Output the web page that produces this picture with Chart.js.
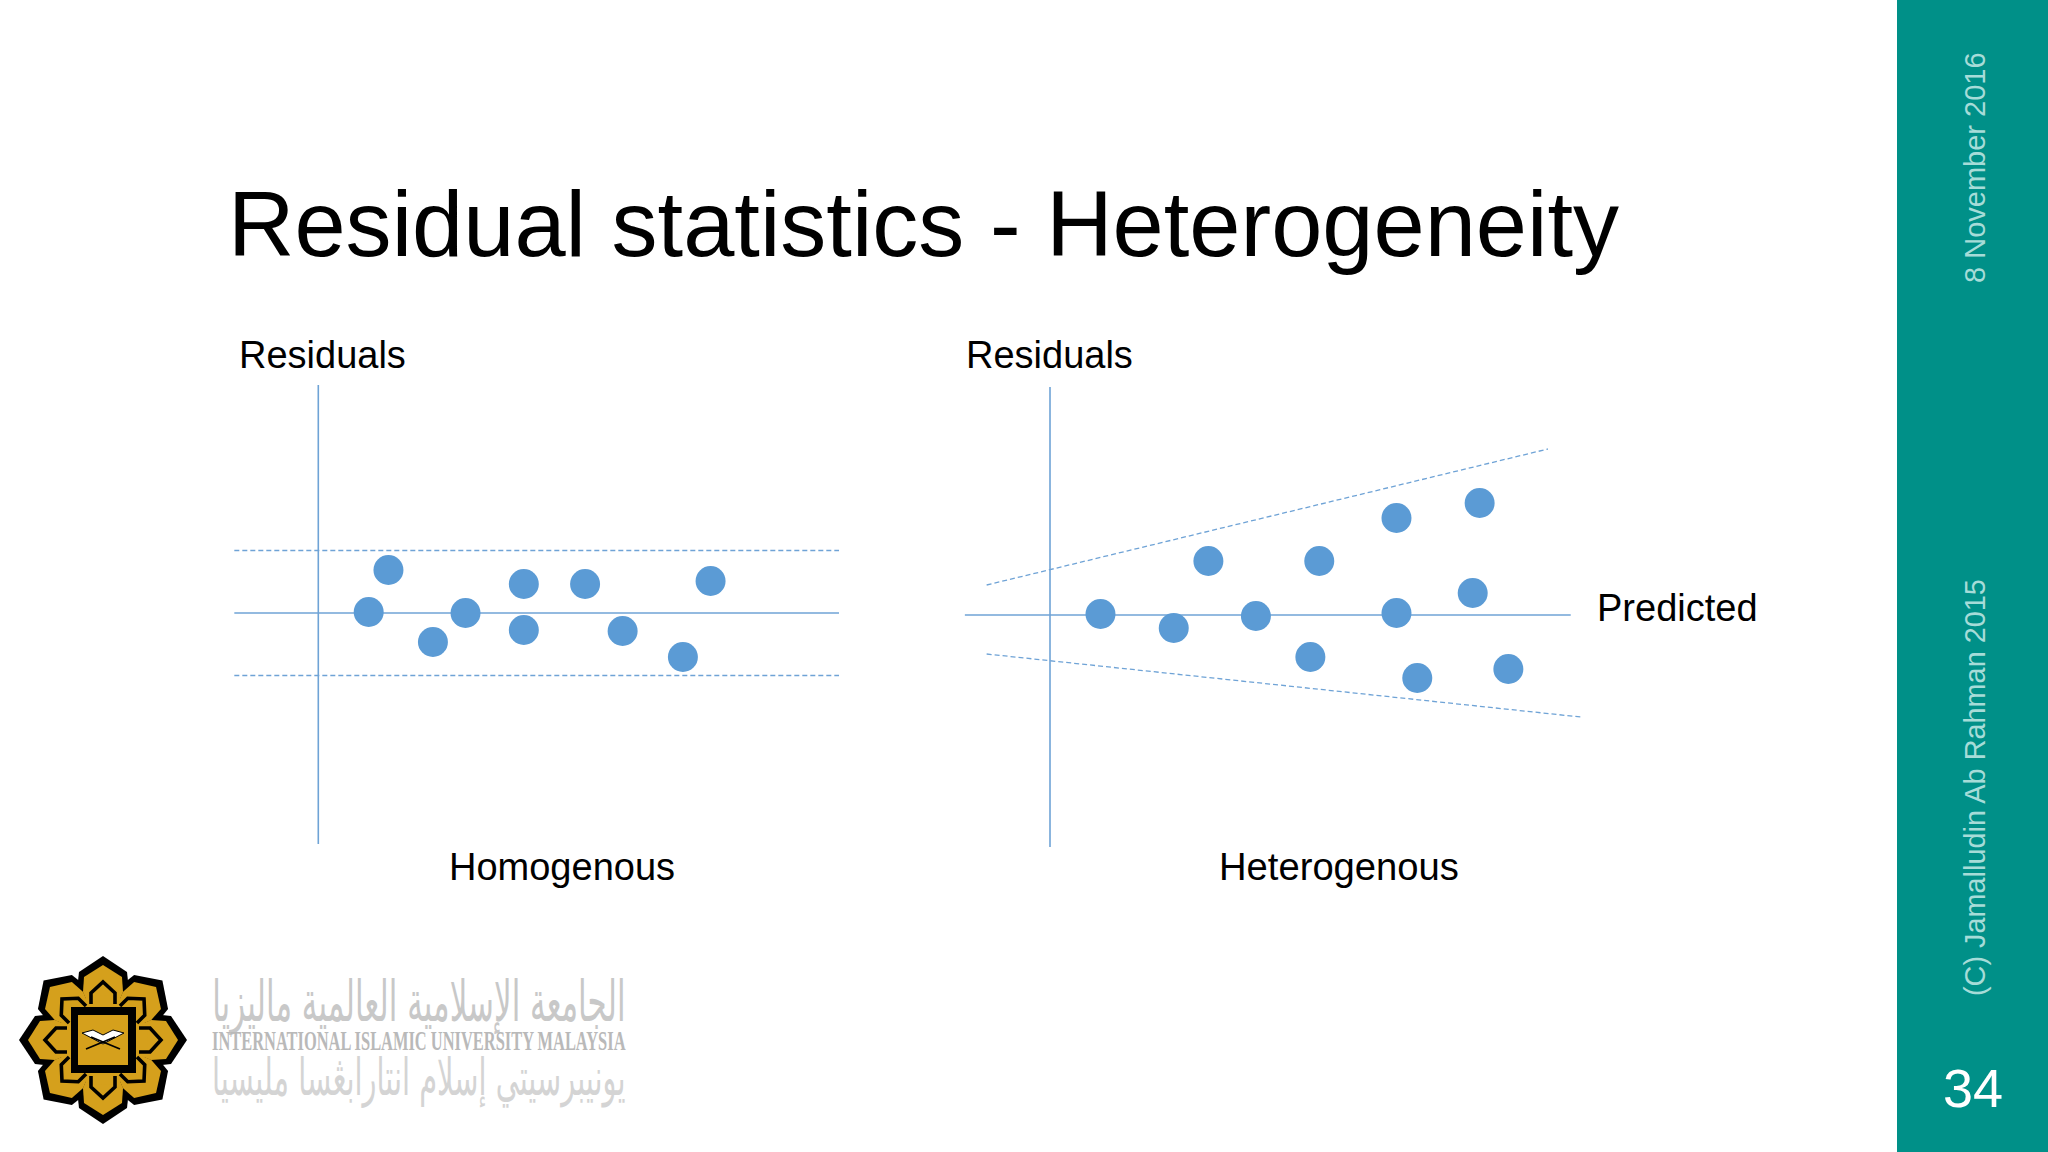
<!DOCTYPE html>
<html><head><meta charset="utf-8">
<script src="https://cdn.jsdelivr.net/npm/chart.js@4"></script>
<style>
html,body{margin:0;padding:0;width:2048px;height:1152px;background:#fff;overflow:hidden}
canvas{position:absolute}
svg{position:absolute;left:0;top:0}
text{font-family:"Liberation Sans",Arial,sans-serif}
</style></head><body>
<svg id="page" width="2048" height="1152" xmlns="http://www.w3.org/2000/svg">
  <rect x="1897" y="0" width="151" height="1152" fill="#009088"/>
  <text x="228" y="256" font-size="92" fill="#000" textLength="1391" lengthAdjust="spacingAndGlyphs">Residual statistics - Heterogeneity</text>
  <text x="239" y="368" font-size="38" fill="#000">Residuals</text>
  <text x="966" y="368" font-size="38" fill="#000">Residuals</text>
  <text x="449" y="880" font-size="38" fill="#000">Homogenous</text>
  <text x="1219" y="880" font-size="38.2" fill="#000">Heterogenous</text>
  <text x="1597" y="621" font-size="38" fill="#000">Predicted</text>
  <text transform="translate(1985,283) rotate(-90)" font-size="29" fill="#a6dcd8">8 November 2016</text>
  <text transform="translate(1985,996) rotate(-90)" font-size="28.85" fill="#a6dcd8">(C) Jamalludin Ab Rahman 2015</text>
  <text x="1943" y="1107" font-size="54" fill="#fff">34</text>
  <g id="logo" transform="translate(103,1040)"></g>
  <text class="fit" data-l="212" data-r="625.5" data-y="1021" data-sy="1.4" font-size="40" fill="#c8c8c8" style="font-family:'DejaVu Sans'" direction="rtl">الجامعة الإسلامية العالمية ماليزيا</text>
  <text x="212" y="1050" font-size="27" font-weight="bold" fill="#b9b9b9" textLength="413.5" lengthAdjust="spacingAndGlyphs" style="font-family:'Liberation Serif'">INTERNATIONAL ISLAMIC UNIVERSITY MALAYSIA</text>
  <text class="fit" data-l="212" data-r="625.5" data-y="1095" data-sy="1.35" font-size="38" fill="#d4d4d4" style="font-family:'DejaVu Sans'" direction="rtl">يونيبرسيتي إسلام انتارابڠسا مليسيا</text>
</svg>
<canvas id="left" style="left:219px;top:373px" width="630" height="480"></canvas>
<canvas id="right" style="left:952px;top:375px" width="640" height="480"></canvas>
<script>
const homogenousX = [5.1, 7.1, 11.6, 14.9, 20.8, 20.8, 27.0, 30.8, 36.9, 39.7];
const homogenousY = [0.1, 4.3, -2.9, 0, 2.9, -1.7, 2.9, -1.8, -4.4, 3.2];
const homogenousBandX = [-8.5, 52.7];
const homogenousUpper = [6.25, 6.25];
const homogenousLower = [-6.25, -6.25];
const homogenousZeroX = [-8.5, 52.7];
const homogenousAxisY = [22.8, -23.1];

const heterogenousX = [5.1, 12.5, 16.0, 20.8, 27.2, 26.3, 35.0, 35.0, 37.1, 43.4, 42.7, 46.3];
const heterogenousY = [0.1, -1.3, 5.4, -0.1, 5.4, -4.2, 9.7, 0.2, -6.3, 11.2, 2.2, -5.4];
const heterogenousUpperX = [-6.4, 50.3];
const heterogenousUpper = [3.0, 16.6];
const heterogenousLowerX = [-6.4, 53.6];
const heterogenousLower = [-3.9, -10.2];
const heterogenousZeroX = [-8.6, 52.6];
const heterogenousAxisY = [22.8, -23.2];

const BLUE = '#5b9bd5';
const LINE = '#6fa3d6';
const pairs = (xs, ys) => xs.map((x, i) => ({x, y: ys[i]}));
const lineSet = (data, dash) => ({type:'line', data, borderColor:LINE, borderWidth:dash?1.3:1.6,
  borderDash:dash?[5,3]:[], pointRadius:0, fill:false, tension:0, order:1});

function panel(id, xs, ys, lines, xRange) {
  new Chart(document.getElementById(id), {
    type:'scatter',
    data:{datasets:[
      {data:pairs(xs, ys), backgroundColor:BLUE, borderWidth:0, pointRadius:15, order:0},
      ...lines
    ]},
    options:{
      responsive:false, animation:false, devicePixelRatio:1,
      layout:{padding:0, autoPadding:false},
      plugins:{legend:{display:false}, tooltip:{enabled:false}},
      scales:{
        x:{type:'linear', min:xRange[0], max:xRange[1], display:false},
        y:{type:'linear', min:-24, max:24, display:false}
      }
    }
  });
}
panel('left', homogenousX, homogenousY, [
  lineSet(pairs(homogenousZeroX, [0,0]), false),
  lineSet(pairs([0,0], homogenousAxisY), false),
  lineSet(pairs(homogenousBandX, homogenousUpper), true),
  lineSet(pairs(homogenousBandX, homogenousLower), true)
], [-10.05, 53.71]);
panel('right', heterogenousX, heterogenousY, [
  lineSet(pairs(heterogenousZeroX, [0,0]), false),
  lineSet(pairs([0,0], heterogenousAxisY), false),
  lineSet(pairs(heterogenousUpperX, heterogenousUpper), true),
  lineSet(pairs(heterogenousLowerX, heterogenousLower), true)
], [-9.9, 54.75]);

// emblem
const NS = 'http://www.w3.org/2000/svg';
const logo = document.getElementById('logo');
function add(tag, attrs, parent) {
  const el = document.createElementNS(NS, tag);
  for (const k in attrs) el.setAttribute(k, attrs[k]);
  (parent || logo).appendChild(el);
  return el;
}
const outer = '0,-84 24,-68 26,-50 0,0 -26,-50 -24,-68';
const mid = '0,-75 19,-63 20,-48 0,0 -20,-48 -19,-63';
const chevron = '-12,-36 -12,-47 0,-58 12,-47 12,-36';
for (let i = 0; i < 8; i++) add('polygon', {points:outer, fill:'#000', transform:`rotate(${i*45})`});
for (let i = 0; i < 8; i++) add('polygon', {points:mid, fill:'#d5a01c', transform:`rotate(${i*45})`});
add('circle', {r:45, fill:'#d5a01c'});
for (let i = 0; i < 8; i++) add('polyline', {points:chevron, fill:'none', stroke:'#000', 'stroke-width':3.6, transform:`rotate(${i*45})`});
add('rect', {x:-32, y:-33, width:65, height:66, fill:'#000'});
add('rect', {x:-25, y:-25, width:50, height:50, fill:'#d5a01c'});
add('polygon', {points:'-21,-7 -10,-10 0,-5 10,-10 21,-7 0,4', fill:'#fff', stroke:'#000', 'stroke-width':1});
add('path', {d:'M-17,9 L12,-3 M17,9 L-12,-3', stroke:'#000', 'stroke-width':1.8, fill:'none'});

// stretch the wordmark's Arabic lines to the width they occupy in the slide
document.querySelectorAll('text.fit').forEach(t => {
  const w = t.getComputedTextLength();
  const l = +t.dataset.l, r = +t.dataset.r, y = +t.dataset.y, sy = +t.dataset.sy;
  t.setAttribute('transform', `translate(${r},${y}) scale(${(r - l) / w},${sy})`);
});
</script>
</body></html>
